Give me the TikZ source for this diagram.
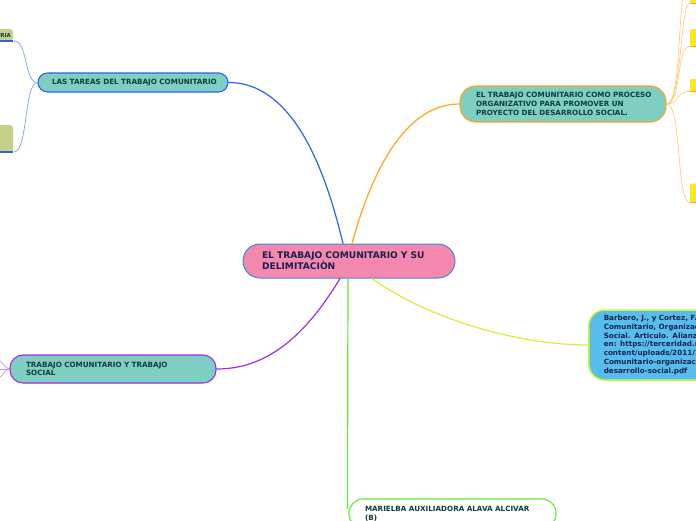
\documentclass[tikz,border=0pt]{standalone}
\usepackage{fontspec}
\setmainfont{DejaVu Sans}
\usetikzlibrary{calc}
\newcommand\oneline[1]{\mbox{#1}}
\definecolor{tealfill}{HTML}{7ECEC2}
\definecolor{pinkfill}{HTML}{F488AE}
\definecolor{cborder}{HTML}{3D8BD8}
\definecolor{bluel}{HTML}{2D63E8}
\definecolor{bluelight}{HTML}{7FA0F5}
\definecolor{tdark}{HTML}{0F3D3A}
\definecolor{cdark}{HTML}{1A1F4F}
\definecolor{orng}{HTML}{FFA41C}
\definecolor{orngl}{HTML}{FFCB85}
\definecolor{ygreen}{HTML}{CCF53A}
\definecolor{bluefill}{HTML}{56BEEC}
\definecolor{purp}{HTML}{A52AE8}
\definecolor{purpl}{HTML}{D08CF5}
\definecolor{grn}{HTML}{5EEB2E}
\definecolor{olive}{HTML}{C5D18B}
\definecolor{yell}{HTML}{FFE817}
\tikzset{
  mm/.style={draw, line width=1.1pt, inner sep=0pt, align=left, text=tdark,
    font=\bfseries\fontsize{7.2}{9}\selectfont},
  conn/.style={line width=1.2pt, line cap=round},
  leafconn/.style={line width=0.7pt},
}
\begin{document}
\begin{tikzpicture}[x=1pt,y=-1pt]
\useasboundingbox (0,0) rectangle (696,520);
\clip (0,0) rectangle (696,520);
\fill[white] (0,0) rectangle (696,520);

% main nodes
\node[mm, fill=pinkfill, draw=cborder, line width=1pt, rounded corners=17pt,
  minimum width=212pt, minimum height=34pt, text width=174pt, text=cdark,
  font=\bfseries\fontsize{9.1}{11}\selectfont] (c) at (349,261)
  {\oneline{EL TRABAJO COMUNITARIO Y SU}\\\oneline{DELIMITACIÒN}};

\node[mm, fill=tealfill, draw=bluel, rounded corners=9.5pt,
  minimum width=190pt, minimum height=19pt, text width=162pt] (t) at (133,82.5)
  {\oneline{LAS TAREAS DEL TRABAJO COMUNITARIO}};

\node[mm, fill=tealfill, draw=orng, rounded corners=16pt,
  minimum width=206pt, minimum height=36pt, text width=174pt] (p) at (563,104)
  {\oneline{EL TRABAJO COMUNITARIO COMO PROCESO}\\\oneline{ORGANIZATIVO PARA PROMOVER UN}\\\oneline{PROYECTO DEL DESARROLLO SOCIAL.}};

\node[mm, fill=bluefill, draw=ygreen, line width=1.5pt, rounded corners=16pt, anchor=west,
  inner xsep=15pt, minimum height=70pt, text width=300pt, text=cdark,
  font=\bfseries\fontsize{7.2}{8.8}\selectfont] (b) at (588,345)
  {Barbero, J., y Cortez, F. (2005). Trabajo\\Comunitario, Organización y Desarrollo\\Social. Articulo. Alianza Editorial. Disponible\\en: https://terceridad.net/wp-\\content/uploads/2011/10/Trabajo-\\Comunitario-organizaci\%C3\%B3n-y-\\desarrollo-social.pdf};

\node[mm, fill=tealfill, draw=purp, rounded corners=13pt,
  minimum width=206pt, minimum height=28pt, text width=174pt,
  font=\bfseries\fontsize{7.2}{8.5}\selectfont] (s) at (113,369)
  {\oneline{TRABAJO COMUNITARIO Y TRABAJO}\\\oneline{SOCIAL}};

\node[mm, fill=white, draw=grn, rounded corners=14pt,
  minimum width=207pt, minimum height=29pt, text width=175pt] (m) at (452.5,513.5)
  {\oneline{MARIELBA AUXILIADORA ALAVA ALCIVAR}\\\oneline{(B)}};

% left leaves
\node[fill=olive, rounded corners=3pt, inner sep=0pt, minimum width=43pt, minimum height=12pt,
  text width=39pt, align=right, text=tdark, font=\bfseries\fontsize{5.5}{6}\selectfont] (l1) at (-8.5,35) {RIA};
\node[fill=olive, rounded corners=3pt, inner sep=0pt, minimum width=43pt, minimum height=27pt] (l2) at (-8.5,138.5) {};

% right leaves
\node[fill=yell, rounded corners=2pt, minimum width=12pt, minimum height=12pt, inner sep=0pt] (r0) at (696,-3) {};
\node[fill=yell, rounded corners=2pt, minimum width=12pt, minimum height=17pt, inner sep=0pt] (r1) at (696,37.5) {};
\node[fill=yell, rounded corners=2pt, minimum width=12pt, minimum height=12pt, inner sep=0pt] (r2) at (696,85) {};
\node[fill=yell, rounded corners=2pt, minimum width=12pt, minimum height=19pt, inner sep=0pt] (r3) at (696,193) {};
\coordinate (rx) at (684,-10);

% main connectors
\draw[conn, draw=bluel] ($(c.north)+(-6,0)$) .. controls (330,190) and (300,82.5) .. (t.east);
\draw[conn, draw=orng] ($(c.north)+(3,0)$) .. controls (368,185) and (400,104) .. (p.west);
\draw[conn, draw=ygreen] ($(c.south)+(23,0)$) .. controls (430,320) and (520,345) .. (b.west);
\draw[conn, draw=purp] ($(c.south)+(-9,0)$) .. controls (300,345) and (260,369) .. (s.east);
\draw[conn, draw=grn] ($(c.south)+(-1,0)$) -- ($(m.north west)+(-1,10)$);

% left leaf connectors
\draw[leafconn, draw=bluelight] (t.west) .. controls (24,82.5) and (28,41) .. (14,41);
\draw[leafconn, draw=bluelight] (t.west) .. controls (24,82.5) and (28,152) .. (14,152);
\draw[line width=1.5pt, draw=bluel] (l1.south west) -- (l1.south east);
\draw[line width=1.5pt, draw=bluel] (l2.south west) -- (l2.south east);

% purple children off-screen
\draw[leafconn, draw=purpl] (s.west) .. controls (4,369) and (4,360) .. (-10,355);
\draw[leafconn, draw=purpl] (s.west) -- (-10,369);
\draw[leafconn, draw=purpl] (s.west) .. controls (4,369) and (4,378) .. (-10,383);

% right leaf connectors
\draw[leafconn, draw=orngl] (p.east) .. controls (682,104) and (680,3) .. (r0.south west);
\draw[leafconn, draw=orngl] (p.east) .. controls (680,104) and (678,20) .. (rx);
\draw[leafconn, draw=orngl] (p.east) .. controls (682,104) and (676,46) .. (r1.south west);
\draw[leafconn, draw=orngl] (p.east) .. controls (680,104) and (676,91) .. (r2.south west);
\draw[leafconn, draw=orngl] (p.east) .. controls (682,104) and (676,202) .. (r3.south west);
\foreach \n in {r0,r1,r2,r3} \draw[line width=1.2pt, draw=orng] (\n.south west) -- (\n.south east);
\end{tikzpicture}
\end{document}
